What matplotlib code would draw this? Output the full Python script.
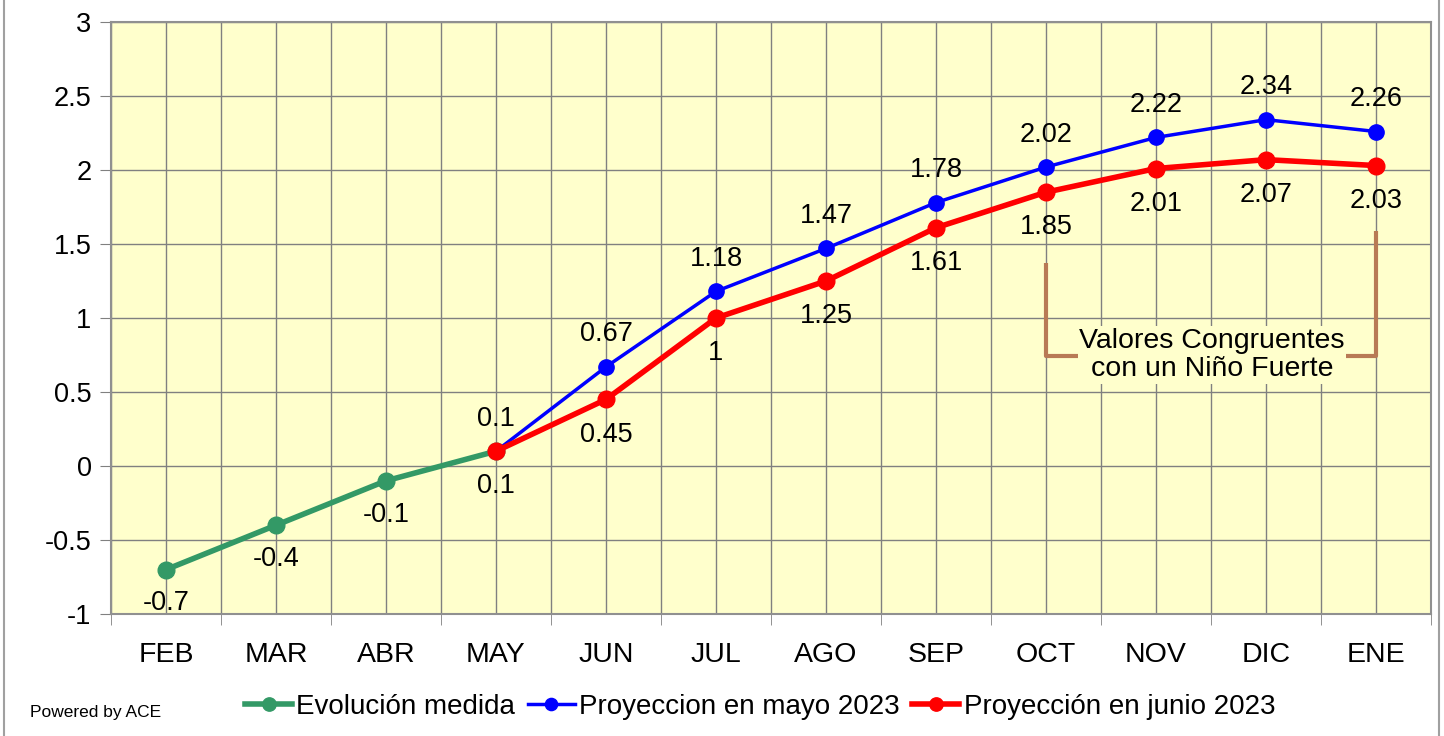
import matplotlib
matplotlib.use("Agg")
import matplotlib.pyplot as plt
import numpy as np

plt.rcParams['font.family'] = ['Liberation Sans', 'DejaVu Sans']

months = ["FEB", "MAR", "ABR", "MAY", "JUN", "JUL", "AGO", "SEP", "OCT", "NOV", "DIC", "ENE"]
evol_idx = [0, 1, 2, 3]
evol_vals = [-0.7, -0.4, -0.1, 0.1]
mayo_idx = [3, 4, 5, 6, 7, 8, 9, 10, 11]
mayo_vals = [0.1, 0.67, 1.18, 1.47, 1.78, 2.02, 2.22, 2.34, 2.26]
junio_idx = [3, 4, 5, 6, 7, 8, 9, 10, 11]
junio_vals = [0.1, 0.45, 1.0, 1.25, 1.61, 1.85, 2.01, 2.07, 2.03]
y_ticks = [-1, -0.5, 0, 0.5, 1, 1.5, 2, 2.5, 3]
y_tick_labels = ["-1", "-0.5", "0", "0.5", "1", "1.5", "2", "2.5", "3"]

fig = plt.figure(figsize=(14.44, 7.36), dpi=100)
ax = fig.add_axes([111/1444, 1 - 614/736, 1320/1444, 592/736])
ax.set_facecolor("#FFFFCC")

green = "#339966"
blue = "#0000FF"
red = "#FF0000"

ax.plot(evol_idx, evol_vals, color=green, lw=4, marker="o", ms=12, zorder=3, label="Evolución medida")
ax.plot(mayo_idx, mayo_vals, color=blue, lw=2.5, marker="o", ms=11, zorder=4, label="Proyeccion en mayo 2023")
ax.plot(junio_idx, junio_vals, color=red, lw=4, marker="o", ms=12, zorder=5, label="Proyección en junio 2023")

fs = 19.5
for x, v in zip(evol_idx[:-1], evol_vals[:-1]):
    ax.annotate(f"{v:g}", (x, v), xytext=(0, -15), textcoords="offset points", ha="center", va="top", fontsize=fs, zorder=6)
for x, v in zip(mayo_idx, mayo_vals):
    ax.annotate(f"{v:g}", (x, v), xytext=(0, 14), textcoords="offset points", ha="center", va="bottom", fontsize=fs, zorder=6)
for x, v in zip(junio_idx, junio_vals):
    ax.annotate(f"{v:g}", (x, v), xytext=(0, -16), textcoords="offset points", ha="center", va="top", fontsize=fs, zorder=6)

ax.set_xlim(-0.5, 11.5)
ax.set_ylim(-1, 3)
ax.set_yticks(y_ticks)
ax.set_yticklabels(y_tick_labels, fontsize=19.5)
ax.set_xticks(np.arange(len(months)))
ax.set_xticklabels(months, fontsize=20.5)
ax.set_xticks(np.arange(-0.5, 12, 1), minor=True)
ax.tick_params(axis="x", which="major", length=0, pad=20)
ax.tick_params(axis="x", which="minor", length=8, color="#808080")
ax.tick_params(axis="y", length=8, color="#808080", pad=6)

for yv in y_ticks:
    ax.axhline(yv, color="#808080", lw=1, zorder=1)
for xv in np.arange(-0.5, 12, 0.5):
    ax.axvline(xv, color="#808080", lw=1, zorder=1)

for s in ax.spines.values():
    s.set_color("#909090")
    s.set_linewidth(1.5)

# bracket
bc = "#B87A55"
ax.plot([8, 8, 8.3], [1.37, 0.74, 0.74], color=bc, lw=3, zorder=2, solid_capstyle="butt")
ax.plot([10.72, 11.0, 11.0], [0.74, 0.74, 1.59], color=bc, lw=3, zorder=2, solid_capstyle="butt")
ax.text(9.51, 0.75, "Valores Congruentes\ncon un Niño Fuerte", ha="center", va="center",
        fontsize=20.5, linespacing=1.12, zorder=3,
        bbox=dict(facecolor="#FFFFCC", edgecolor="none", pad=1))

leg = fig.legend(loc="center", bbox_to_anchor=(760/1444, 1 - 707/736), ncol=3, frameon=False,
                 fontsize=20, handlelength=1.7, handletextpad=0.15, columnspacing=0.45, markerscale=0.8)

fig.text(30/1444, 1 - 712/736, "Powered by ACE", fontsize=12.5, ha="left", va="center")

# figure frame
fig.add_artist(plt.Line2D([4/1444, 4/1444], [0, 1], transform=fig.transFigure, color="#A0A0A0", lw=1.5))
fig.add_artist(plt.Line2D([1439/1444, 1439/1444], [0, 1], transform=fig.transFigure, color="#A0A0A0", lw=1.5))

fig.savefig("out.png", dpi=100)
